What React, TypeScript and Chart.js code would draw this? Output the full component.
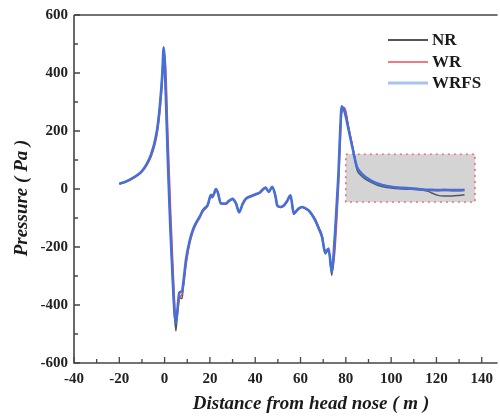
import React, { useEffect, useRef } from "react";
import { Chart, registerables } from "chart.js";

Chart.register(...registerables);

const distance = [
  -20, -17, -14, -12, -10, -8, -6, -4, -3, -2, -1, -0.4, 0.5, 1.5, 2.5, 3.5, 4.3, 5, 5.6, 6.5,
  7.7, 8.3, 9.5, 11, 12.5, 14, 15.5, 17, 19, 20.5, 21, 22, 22.6, 23.5, 24.8, 27, 28.5, 30, 31.5,
  32.9, 34.5, 35.8, 38, 40.2, 42, 44.6, 46, 47.5, 49, 49.7, 51.2, 52.6, 54, 55.6, 57, 59, 60.7,
  62, 63.6, 65, 66.5, 68, 69.5, 70.9, 72.4, 73.8, 75, 76, 76.8, 77.5, 78.2, 79.5, 81.2, 83.4,
  84.8, 86, 88.5, 91, 94.3, 98, 101.7, 105, 109, 112, 116.3, 118, 120.7, 123.6, 127, 130, 132.4,
];

const nrValues = [
  18, 26, 38, 48, 62, 85, 118, 175, 222, 295, 400, 490, 335, 85, -125, -300, -430, -490, -430, -375,
  -378, -330, -245, -182, -142, -116, -96, -73, -56, -21, -29, -13, -1, -13, -51, -51, -41, -35, -51,
  -82, -51, -35, -26, -19, -13, 4, -11, 7, -29, -58, -64, -58, -43, -23, -87, -69, -63, -67, -75,
  -90, -110, -137, -168, -224, -210, -298, -185, -55, 55, 190, 280, 276, 212, 130, 70, 52, 35, 24,
  12, 5, 2, 0, -1, -3, -8, -14, -22, -24, -24, -22, -20,
];

const wrValues = [
  17, 25, 36, 46, 59, 80, 110, 162, 205, 272, 370, 475, 420, 180, -40, -230, -370, -455, -440, -380,
  -362, -338, -262, -192, -148, -120, -100, -76, -59, -24, -30, -16, -3, -10, -48, -53, -43, -36, -46,
  -76, -54, -37, -27, -20, -14, 2, -8, 5, -20, -52, -63, -59, -45, -26, -78, -72, -63, -65, -73,
  -86, -104, -130, -160, -212, -212, -278, -230, -110, 10, 150, 262, 280, 215, 130, 80, 63, 43, 30,
  18, 10, 6, 3, 1, -1, -4, -5, -6, -5, -6, -6, -5,
];

const wrfsValues = [
  18, 26, 38, 48, 62, 85, 118, 175, 222, 295, 400, 488, 330, 80, -130, -300, -420, -462, -420, -358,
  -352, -320, -240, -180, -140, -115, -95, -72, -55, -20, -28, -12, 0, -12, -50, -50, -40, -34, -50,
  -80, -50, -34, -25, -18, -12, 5, -10, 8, -28, -57, -62, -57, -42, -22, -85, -68, -62, -66, -74,
  -88, -108, -135, -165, -220, -205, -286, -180, -50, 63, 200, 285, 265, 205, 125, 78, 62, 42, 30,
  18, 10, 6, 4, 2, 0, -3, -3, -4, -3, -4, -4, -3,
];

const seriesNames = ["NR", "WR", "WRFS"];
const seriesColors = ["#555555", "#ee4b55", "#4470d8"];
const legendColors = ["#555555", "#f07a80", "#a9c2ee"];
const seriesWidths = [1.5, 1.5, 2.6];

const xTickValues = [-40, -30, -20, -10, 0, 10, 20, 30, 40, 50, 60, 70, 80, 90, 100, 110, 120, 130, 140];
const yTickValues = [-600, -500, -400, -300, -200, -100, 0, 100, 200, 300, 400, 500, 600];

const zoomBoxX = [80, 137];
const zoomBoxY = [-45, 120];

const xTitle = "Distance from head nose ( m )";
const yTitle = "Pressure ( Pa )";

const FONT = "'Liberation Serif', 'Times New Roman', serif";

const decorPlugin = {
  id: "decor",
  beforeDatasetsDraw(chart: any) {
    const { ctx, scales } = chart;
    const x = scales.x, y = scales.y;
    const l = x.getPixelForValue(zoomBoxX[0]);
    const r = x.getPixelForValue(zoomBoxX[1]);
    const t = y.getPixelForValue(zoomBoxY[1]);
    const b = y.getPixelForValue(zoomBoxY[0]);
    ctx.save();
    ctx.fillStyle = "#d4d4d4";
    ctx.fillRect(l, t, r - l, b - t);
    ctx.strokeStyle = "#f07070";
    ctx.lineWidth = 1.6;
    ctx.setLineDash([2, 4]);
    ctx.strokeRect(l, t, r - l, b - t);
    ctx.restore();
  },
  afterDraw(chart: any) {
    const { ctx, chartArea, scales } = chart;
    const x = scales.x, y = scales.y;
    ctx.save();
    ctx.strokeStyle = "#454545";
    ctx.lineWidth = 1.6;
    ctx.beginPath();
    ctx.moveTo(chartArea.left, chartArea.top);
    ctx.lineTo(chartArea.right, chartArea.top);
    ctx.moveTo(chartArea.left, chartArea.top);
    ctx.lineTo(chartArea.left, chartArea.bottom);
    ctx.lineTo(chartArea.right, chartArea.bottom);
    ctx.stroke();
    ctx.lineWidth = 1.3;
    ctx.beginPath();
    xTickValues.forEach((v) => {
      const px = x.getPixelForValue(v);
      const len = v % 20 === 0 ? 6 : 4;
      ctx.moveTo(px, chartArea.bottom);
      ctx.lineTo(px, chartArea.bottom - len);
    });
    yTickValues.forEach((v) => {
      const py = y.getPixelForValue(v);
      const len = v % 200 === 0 ? 6 : 4;
      ctx.moveTo(chartArea.left, py);
      ctx.lineTo(chartArea.left + len, py);
    });
    ctx.stroke();

    // axis titles
    ctx.fillStyle = "#1a1a1a";
    ctx.font = `bold italic 19px ${FONT}`;
    ctx.textAlign = "center";
    ctx.textBaseline = "middle";
    ctx.fillText(xTitle, 311, 404);
    ctx.save();
    ctx.translate(22, 198);
    ctx.rotate(-Math.PI / 2);
    ctx.fillText(yTitle, 0, 0);
    ctx.restore();

    // legend
    const rows = [40, 62, 83];
    ctx.font = `bold 17px ${FONT}`;
    ctx.textAlign = "left";
    seriesNames.forEach((name, i) => {
      ctx.strokeStyle = legendColors[i];
      ctx.lineWidth = i === 2 ? 3 : 1.8;
      ctx.beginPath();
      ctx.moveTo(388, rows[i]);
      ctx.lineTo(428, rows[i]);
      ctx.stroke();
      ctx.fillStyle = "#1a1a1a";
      ctx.fillText(name, 432, rows[i] + 1);
    });
    ctx.restore();
  },
};

export default function App() {
  const ref = useRef<HTMLCanvasElement | null>(null);
  useEffect(() => {
    if (!ref.current) return;
    const valueSets = [nrValues, wrValues, wrfsValues];
    const chart = new Chart(ref.current, {
      type: "line",
      data: {
        datasets: seriesNames.map((name, i) => ({
          label: name,
          data: distance.map((d, j) => ({ x: d, y: valueSets[i][j] })),
          borderColor: seriesColors[i],
          borderWidth: seriesWidths[i],
          pointRadius: 0,
          cubicInterpolationMode: "monotone",
          fill: false,
          order: 3 - i,
        })),
      },
      options: {
        responsive: false,
        animation: false,
        devicePixelRatio: 1,
        layout: { padding: { top: 14, right: 0, left: 0, bottom: 0 } },
        plugins: { legend: { display: false }, tooltip: { enabled: false } },
        scales: {
          x: {
            type: "linear",
            min: -40,
            max: 147,
            grid: { display: false, drawTicks: false },
            border: { display: false },
            afterBuildTicks: (s: any) => {
              s.ticks = xTickValues.map((v) => ({ value: v }));
            },
            afterFit: (s: any) => {
              s.height = 54;
            },
            ticks: {
              autoSkip: false,
              maxRotation: 0,
              padding: 7,
              color: "#222",
              font: { family: FONT, size: 15, weight: "bold" },
              callback: (v: any) => (Number(v) % 20 === 0 ? String(v) : ""),
            },
          },
          y: {
            type: "linear",
            min: -600,
            max: 600,
            grid: { display: false, drawTicks: false },
            border: { display: false },
            afterBuildTicks: (s: any) => {
              s.ticks = yTickValues.map((v) => ({ value: v }));
            },
            afterFit: (s: any) => {
              s.width = 74;
            },
            ticks: {
              autoSkip: false,
              padding: 6,
              color: "#222",
              font: { family: FONT, size: 15, weight: "bold" },
              callback: (v: any) => (Number(v) % 200 === 0 ? String(v) : ""),
            },
          },
        },
      },
      plugins: [decorPlugin],
    });
    return () => chart.destroy();
  }, []);
  return (
    <div style={{ position: "absolute", left: 0, top: 0, width: 500, height: 417, background: "#fff" }}>
      <canvas ref={ref} width={500} height={417} style={{ display: "block" }} />
    </div>
  );
}
